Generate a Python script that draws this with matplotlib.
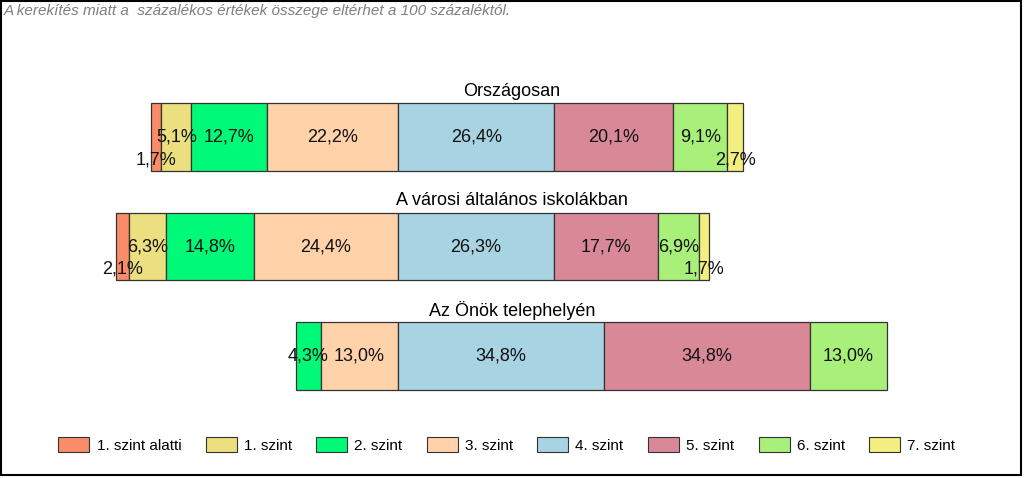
import numpy as np
import matplotlib.pyplot as plt
from matplotlib.patches import Rectangle

plt.rcParams['font.family'] = ['Liberation Sans', 'DejaVu Sans']

# --- data ---
groups = ["Országosan", "A városi általános iskolákban", "Az Önök telephelyén"]
levels = ["1. szint alatti", "1. szint", "2. szint", "3. szint",
          "4. szint", "5. szint", "6. szint", "7. szint"]
orszagos = [1.7, 5.1, 12.7, 22.2, 26.4, 20.1, 9.1, 2.7]
varosi = [2.1, 6.3, 14.8, 24.4, 26.3, 17.7, 6.9, 1.7]
telephely = [0.0, 0.0, 4.3, 13.0, 34.8, 34.8, 13.0, 0.0]
colors = ["#FA8C69", "#EBDF7F", "#00FA78", "#FFD2AA",
          "#A8D3E3", "#D98898", "#A9F07A", "#F2EE80"]
note = "A kerekítés miatt a  százalékos értékek összege eltérhet a 100 százaléktól."

data = np.array([orszagos, varosi, telephely])

fig = plt.figure(figsize=(10.24, 4.78), dpi=100)
ax = fig.add_axes([0, 0, 1, 1])
ax.set_xlim(-398 / 5.92, (1024 - 398) / 5.92)
ax.set_ylim(3.114, -1.251)
ax.axis('off')

bar_h = 0.612
for i, row in enumerate(data):
    # bars aligned at the 3./4. szint boundary
    left = -row[:4].sum()
    for j, v in enumerate(row):
        if v > 0:
            ax.barh(i, v, left=left, height=bar_h, color=colors[j],
                    edgecolor='#333333', linewidth=0.9)
            ty = i + 0.21 if j in (0, 7) else i
            ax.text(left + v / 2, ty, f"{v:.1f}%".replace('.', ','),
                    ha='center', va='center', fontsize=13, color='#111111')
        left += v
    ax.text(0.5, i - bar_h / 2 - 0.11, groups[i], transform=ax.get_yaxis_transform(),
            ha='center', va='center', fontsize=13)

handles = [Rectangle((0, 0), 1, 1, facecolor=c, edgecolor='#333333', linewidth=0.8)
           for c in colors]
fig.legend(handles, levels, loc='center', bbox_to_anchor=(0.495, 0.069), ncol=8,
           frameon=False, fontsize=11, handlelength=2.03, handleheight=1.05,
           handletextpad=0.46, columnspacing=1.6)

fig.text(4 / 1024, 1 - 11 / 478, note, fontsize=11, style='italic', color='#7F7F7F',
         ha='left', va='center')

fig.patches.append(Rectangle((1 / 1024, 3 / 478), 1020 / 1024, 474 / 478,
                             transform=fig.transFigure, fill=False,
                             edgecolor='black', linewidth=1.5))

fig.savefig("out.png", dpi=100)
